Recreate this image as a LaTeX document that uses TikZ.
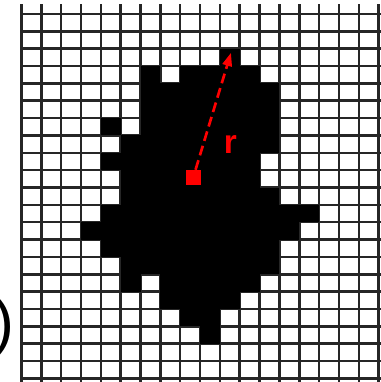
\documentclass[tikz,border=0pt]{standalone}
\usepackage{fontspec}
\setmainfont{Liberation Sans}
\usepackage{tikz}
\usepackage{xcolor}
\usetikzlibrary{arrows.meta}

\begin{document}
\begin{tikzpicture}[x=0.75pt, y=-0.75pt,
  cell/.style={fill=black},
  gridline/.style={line width=1.9pt, black!85},
  ray/.style={red, line width=2pt, dash pattern=on 7.5pt off 3.8pt,
    -{Triangle[length=10pt, width=7pt]}}]
\useasboundingbox (0,0) rectangle (381,382);
\clip (0,0) rectangle (381,382);

% grid
\foreach \c in {0,...,18}
  \draw[gridline] (21.5+19.84*\c, 4) -- (21.5+19.84*\c, 382);
\foreach \r in {0,...,21}
  \draw[gridline] (21.5, 14+17.35*\r) -- (381, 14+17.35*\r);

% black cells: row / first column / last column
\foreach \r/\a/\b in {2/10/10, 3/6/6, 3/8/11, 4/6/12, 5/6/12, 6/4/4, 6/6/12,
    7/5/12, 8/4/11, 9/5/11, 10/5/12, 11/4/14, 12/3/13, 13/4/12, 14/5/12,
    15/5/5, 15/7/11, 16/7/10, 17/8/9, 18/9/9} {
  \foreach \c in {\a,...,\b}
    \fill[cell] (21.5+19.84*\c, 14+17.35*\r) rectangle ++(19.84,17.35);
}

% centre and radius
\node[fill=red, minimum size=11.2pt, inner sep=0] (ctr) at (193.2,177.5) {};
\coordinate (tip) at (231,52.7);
\draw[ray] (ctr) -- (tip);
\node[red, font=\bfseries\fontsize{25}{25}\selectfont, inner sep=0] (rlab) at (230.3,145) {r};

% cut-off panel label
\node[font=\fontsize{47}{47}\selectfont, inner sep=0, anchor=east] (paren) at (14.5,327.5) {)};
\end{tikzpicture}
\end{document}
